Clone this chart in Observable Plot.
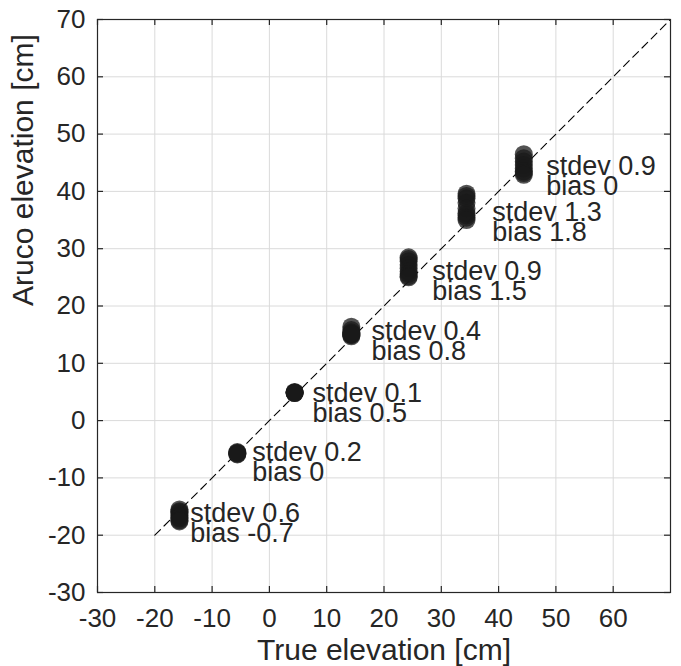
<!DOCTYPE html>
<html>
<head>
<meta charset="utf-8">
<script src="https://cdn.jsdelivr.net/npm/d3@7"></script>
<script src="https://cdn.jsdelivr.net/npm/@observablehq/plot@0.6"></script>
<style>
  html, body { margin: 0; padding: 0; background: #fff; }
</style>
</head>
<body>
<div id="chart"></div>
<script>
// ---- data ----
const trueElevation = [-15.7, -5.6, 4.4, 14.3, 24.3, 34.4, 44.4];
const arucoC1 = [-15.5, -15.8, -16.0, -16.3, -16.6, -16.9, -17.1, -17.4, -17.6];
const arucoC2 = [-5.5, -5.6, -5.7, -5.8, -5.9];
const arucoC3 = [4.8, 4.9, 5.0, 4.9, 4.8];
const arucoC4 = [16.4, 15.8, 15.4, 15.1, 14.9, 14.7, 15.0, 15.2];
const arucoC5 = [28.5, 28.2, 27.8, 27.2, 26.6, 26.0, 25.6, 25.2, 25.0];
const arucoC6 = [39.6, 39.2, 38.8, 38.0, 37.0, 36.2, 35.8, 35.4, 35.0];
const arucoC7 = [46.5, 45.8, 45.2, 44.6, 44.0, 43.5, 43.2, 42.9];
const stdevs = [0.6, 0.2, 0.1, 0.4, 0.9, 1.3, 0.9];
const biases = [-0.7, 0, 0.5, 0.8, 1.5, 1.8, 0];
const labelX = [-13.8, -3.0, 7.5, 17.8, 28.4, 38.9, 48.3];
const labelY = [-17.7, -7.0, 3.2, 14.0, 24.5, 34.9, 42.9];
const refLine = [-20, 70];
const xTicks = [-30, -20, -10, 0, 10, 20, 30, 40, 50, 60];
const yTicks = [-30, -20, -10, 0, 10, 20, 30, 40, 50, 60, 70];
const xLabel = "True elevation [cm]";
const yLabel = "Aruco elevation [cm]";

// ---- build tables ----
const clusters = [arucoC1, arucoC2, arucoC3, arucoC4, arucoC5, arucoC6, arucoC7];
const points = clusters.flatMap((ys, i) => ys.map(y => ({x: trueElevation[i], y})));
const labels = trueElevation.map((t, i) => ({
  x: labelX[i], y: labelY[i],
  s: `stdev ${stdevs[i]}`, b: `bias ${biases[i]}`
}));
const diag = refLine.map(v => ({x: v, y: v}));

const ink = "#262626";
const tickFs = 26;
const noteFs = 27;
const titleFs = 30;
const fmt = d => String(d); // plain hyphen-minus like the reference

const chart = Plot.plot({
  width: 681,
  height: 666,
  marginLeft: 97,
  marginRight: 11,
  marginTop: 19,
  marginBottom: 74,
  style: {fontFamily: "'Liberation Sans', Arial, Helvetica, sans-serif", fontSize: tickFs + "px", color: ink, background: "#fff"},
  x: {domain: [-30, 70]},
  y: {domain: [-30, 70]},
  marks: [
    Plot.gridX(xTicks, {stroke: "#dadada", strokeOpacity: 1, strokeWidth: 1}),
    Plot.gridY(yTicks, {stroke: "#dadada", strokeOpacity: 1, strokeWidth: 1}),
    Plot.line(diag, {x: "x", y: "y", stroke: "#000", strokeWidth: 1.1, strokeDasharray: "8,5"}),
    Plot.dot(points, {x: "x", y: "y", r: 9, fill: "#1a1a1a", fillOpacity: 0.75, stroke: "none"}),
    Plot.text(labels, {x: "x", y: "y", text: "s", textAnchor: "start", lineAnchor: "bottom", fontSize: noteFs, fill: ink}),
    Plot.text(labels, {x: "x", y: "y", text: "b", textAnchor: "start", lineAnchor: "bottom", dy: 20, fontSize: noteFs, fill: ink}),
    Plot.frame({stroke: ink, strokeWidth: 1.2}),
    // inward ticks on all four sides (frame is 573 x 573 px, ticks 6 px long)
    Plot.tickX(xTicks, {x: d => d, insetTop: 567, stroke: ink, strokeWidth: 1.2}),
    Plot.tickX(xTicks, {x: d => d, insetBottom: 567, stroke: ink, strokeWidth: 1.2}),
    Plot.tickY(yTicks, {y: d => d, insetRight: 567, stroke: ink, strokeWidth: 1.2}),
    Plot.tickY(yTicks, {y: d => d, insetLeft: 567, stroke: ink, strokeWidth: 1.2}),
    // tick labels
    Plot.axisX(xTicks, {anchor: "bottom", tickSize: 0, tickPadding: 16, tickFormat: fmt, label: null, fontSize: tickFs, fill: ink}),
    Plot.axisY(yTicks, {anchor: "left", tickSize: 0, tickPadding: 12, tickFormat: fmt, label: null, fontSize: tickFs, fill: ink}),
    // axis titles
    Plot.text([xLabel], {frameAnchor: "bottom", text: d => d, dy: 67, lineAnchor: "bottom", fontSize: titleFs, fill: ink}),
    Plot.text([yLabel], {frameAnchor: "left", text: d => d, dx: -74, rotate: -90, lineAnchor: "middle", fontSize: titleFs, fill: ink})
  ]
});
document.getElementById("chart").appendChild(chart);
</script>
</body>
</html>
